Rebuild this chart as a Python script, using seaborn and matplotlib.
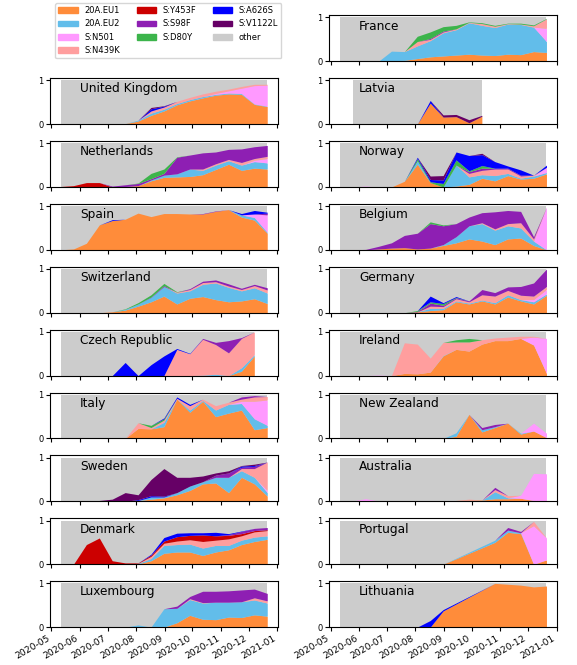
import numpy as np
import pandas as pd
import matplotlib
matplotlib.use("Agg")
import matplotlib.pyplot as plt
import matplotlib.dates as mdates
from matplotlib.patches import Patch
import seaborn as sns

nan = np.nan

# two-week bins
weeks = ["2020-05-11", "2020-05-25", "2020-06-08", "2020-06-22", "2020-07-06",
         "2020-07-20", "2020-08-03", "2020-08-17", "2020-08-31", "2020-09-14",
         "2020-09-28", "2020-10-12", "2020-10-26", "2020-11-09", "2020-11-23",
         "2020-12-07", "2020-12-21"]

variants = ["20A.EU1", "20A.EU2", "S:N501", "S:N439K", "S:Y453F",
            "S:S98F", "S:D80Y", "S:A626S", "S:V1122L"]
variant_colors = ["#ff8c3a", "#62bdea", "#ff99ff", "#ff9e9e", "#cc0000",
                  "#8e1fb3", "#3cb44b", "#0000ff", "#660066"]
other_color = "#cccccc"

# fraction of sequences per variant, one list per variant (nan = no data that week)
uk = {
    "20A.EU1": [0, 0, 0, 0, 0, 0.01, 0.07, 0.20, 0.30, 0.44, 0.53, 0.60, 0.66, 0.69, 0.68, 0.45, 0.40],
    "20A.EU2": [0, 0, 0, 0, 0, 0, 0.02, 0.05, 0.04, 0.03, 0.03, 0.03, 0.02, 0.02, 0.02, 0.01, 0.01],
    "S:N501":  [0, 0, 0, 0, 0, 0, 0, 0, 0, 0, 0, 0, 0.02, 0.05, 0.12, 0.42, 0.48],
    "S:N439K": [0, 0, 0, 0, 0, 0, 0, 0.05, 0.05, 0.05, 0.05, 0.06, 0.05, 0.04, 0.04, 0.03, 0.02],
    "S:A626S": [0, 0, 0, 0, 0, 0, 0, 0.05, 0.02, 0, 0, 0, 0, 0, 0, 0, 0],
    "S:V1122L": [0, 0, 0, 0, 0, 0, 0, 0.03, 0.01, 0, 0, 0, 0, 0, 0, 0, 0],
}
france = {
    "20A.EU1": [0, 0, 0, 0, 0.01, 0.02, 0.06, 0.10, 0.12, 0.14, 0.16, 0.14, 0.13, 0.16, 0.15, 0.22, 0.20],
    "20A.EU2": [0, 0, 0, 0, 0.22, 0.20, 0.29, 0.37, 0.53, 0.58, 0.72, 0.68, 0.64, 0.69, 0.69, 0.56, 0.25],
    "S:N501":  [0, 0, 0, 0, 0, 0, 0, 0, 0, 0, 0, 0, 0, 0, 0, 0, 0.30],
    "S:N439K": [0, 0, 0, 0, 0, 0, 0.10, 0.03, 0.02, 0.02, 0.01, 0.04, 0.03, 0.01, 0.01, 0.03, 0.22],
    "S:S98F":  [0, 0, 0, 0, 0, 0, 0, 0.02, 0.02, 0, 0, 0, 0, 0, 0, 0, 0],
    "S:D80Y":  [0, 0, 0, 0, 0, 0, 0.12, 0.15, 0.10, 0.08, 0.01, 0.02, 0.02, 0.01, 0.02, 0.02, 0.01],
}
latvia = {
    "20A.EU1": [nan, 0, 0, 0, 0, 0, 0, 0.48, 0.16, 0.17, 0.03, 0.18, nan, nan, nan, nan, nan],
    "S:A626S": [nan, 0, 0, 0, 0, 0, 0, 0.06, 0, 0, 0, 0, nan, nan, nan, nan, nan],
    "S:V1122L": [nan, 0, 0, 0, 0, 0, 0, 0, 0.05, 0.05, 0.07, 0.02, nan, nan, nan, nan, nan],
}
netherlands = {
    "20A.EU1": [0, 0, 0, 0, 0, 0.01, 0.03, 0.14, 0.22, 0.23, 0.24, 0.28, 0.40, 0.52, 0.38, 0.43, 0.41],
    "20A.EU2": [0, 0, 0, 0, 0, 0, 0, 0.02, 0.05, 0.07, 0.17, 0.10, 0.10, 0.08, 0.12, 0.15, 0.14],
    "S:N501":  [0.01, 0.01, 0, 0, 0, 0, 0, 0, 0, 0, 0, 0, 0, 0, 0, 0.03, 0.10],
    "S:N439K": [0, 0, 0, 0, 0, 0, 0, 0, 0, 0, 0, 0.03, 0.03, 0.03, 0.06, 0.04, 0.05],
    "S:Y453F": [0, 0.02, 0.10, 0.10, 0, 0, 0, 0, 0, 0, 0, 0, 0, 0, 0, 0, 0],
    "S:S98F":  [0, 0, 0, 0, 0.02, 0.04, 0.05, 0.03, 0.04, 0.38, 0.32, 0.37, 0.27, 0.23, 0.31, 0.27, 0.25],
    "S:D80Y":  [0, 0, 0, 0, 0, 0, 0.01, 0.12, 0.10, 0.01, 0, 0, 0, 0, 0, 0, 0],
}
norway = {
    "20A.EU1": [0, 0, 0, 0, 0, 0.13, 0.52, 0.10, 0, 0.02, 0.06, 0.20, 0.14, 0.26, 0.18, 0.20, 0.30],
    "20A.EU2": [0, 0, 0, 0, 0, 0, 0.08, 0, 0, 0.48, 0.17, 0.08, 0.12, 0.05, 0.02, 0.05, 0.03],
    "S:N501":  [0, 0, 0.02, 0, 0, 0, 0, 0, 0, 0, 0, 0, 0, 0, 0, 0, 0.12],
    "S:N439K": [0, 0, 0, 0, 0, 0, 0, 0, 0, 0, 0.08, 0.10, 0.15, 0.10, 0.05, 0.02, 0],
    "S:S98F":  [0, 0, 0, 0, 0, 0, 0, 0, 0, 0, 0.04, 0.05, 0.02, 0.02, 0.02, 0, 0],
    "S:D80Y":  [0, 0, 0, 0, 0, 0, 0.05, 0.02, 0.08, 0.12, 0.02, 0.06, 0, 0, 0, 0, 0],
    "S:A626S": [0, 0, 0, 0, 0, 0, 0.03, 0.05, 0.08, 0.18, 0.35, 0.25, 0.15, 0.05, 0.12, 0, 0.05],
    "S:V1122L": [0, 0, 0, 0, 0, 0, 0, 0.08, 0.10, 0, 0, 0.03, 0, 0, 0, 0, 0],
}
spain = {
    "20A.EU1": [0, 0.02, 0.15, 0.57, 0.67, 0.70, 0.84, 0.76, 0.83, 0.83, 0.82, 0.82, 0.88, 0.92, 0.75, 0.68, 0.38],
    "20A.EU2": [0, 0, 0, 0, 0, 0, 0, 0, 0, 0, 0, 0, 0, 0, 0.05, 0.06, 0.02],
    "S:N501":  [0, 0, 0, 0, 0, 0, 0, 0, 0, 0, 0, 0, 0, 0, 0, 0.08, 0.40],
    "S:S98F":  [0, 0, 0, 0, 0, 0, 0, 0, 0, 0, 0, 0.01, 0.01, 0, 0, 0, 0.04],
    "S:A626S": [0, 0, 0, 0, 0.02, 0, 0, 0, 0, 0, 0, 0, 0, 0, 0.03, 0.08, 0.02],
}
belgium = {
    "20A.EU1": [0, 0, 0, 0.02, 0.04, 0.05, 0.02, 0.04, 0.10, 0.16, 0.25, 0.20, 0.12, 0.25, 0.27, 0.10, 0],
    "20A.EU2": [0, 0, 0, 0, 0, 0, 0, 0, 0.02, 0.14, 0.30, 0.40, 0.33, 0.30, 0.23, 0.10, 0],
    "S:N501":  [0, 0, 0, 0, 0, 0, 0, 0, 0, 0, 0, 0, 0, 0, 0, 0, 0.98],
    "S:N439K": [0, 0, 0, 0, 0, 0, 0, 0, 0, 0, 0, 0.02, 0.03, 0.05, 0.12, 0.05, 0],
    "S:S98F":  [0, 0, 0.01, 0.06, 0.12, 0.28, 0.36, 0.56, 0.43, 0.30, 0.20, 0.23, 0.39, 0.30, 0.26, 0.05, 0],
    "S:D80Y":  [0, 0, 0, 0, 0, 0, 0, 0.04, 0.02, 0, 0, 0, 0, 0, 0, 0, 0],
}
switzerland = {
    "20A.EU1": [0, 0, 0, 0, 0.02, 0.06, 0.15, 0.25, 0.38, 0.20, 0.33, 0.37, 0.30, 0.25, 0.27, 0.32, 0.21],
    "20A.EU2": [0, 0, 0, 0, 0, 0.02, 0.05, 0.10, 0.22, 0.25, 0.17, 0.28, 0.38, 0.33, 0.23, 0.25, 0.24],
    "S:N439K": [0, 0, 0, 0, 0, 0, 0, 0, 0, 0.02, 0.03, 0.04, 0.03, 0.03, 0.03, 0.05, 0.07],
    "S:S98F":  [0, 0, 0, 0, 0, 0, 0, 0.01, 0.02, 0, 0.02, 0.03, 0.04, 0.05, 0.03, 0.03, 0.05],
    "S:D80Y":  [0, 0, 0, 0, 0, 0.01, 0.03, 0.05, 0.05, 0.01, 0, 0, 0, 0, 0, 0, 0],
}
germany = {
    "20A.EU1": [0, 0, 0, 0, 0, 0, 0.02, 0.05, 0.07, 0.25, 0.20, 0.27, 0.20, 0.36, 0.27, 0.20, 0.40],
    "20A.EU2": [0, 0, 0, 0, 0, 0, 0, 0.05, 0.03, 0.02, 0.02, 0.02, 0.03, 0.05, 0.03, 0.05, 0.03],
    "S:N501":  [0, 0, 0, 0, 0, 0, 0, 0, 0, 0, 0, 0, 0, 0, 0, 0.05, 0.10],
    "S:N439K": [0, 0, 0, 0, 0, 0, 0, 0.05, 0.04, 0.05, 0.03, 0.12, 0.15, 0.10, 0.10, 0.08, 0.07],
    "S:S98F":  [0, 0, 0, 0, 0, 0, 0.01, 0.07, 0.03, 0.02, 0.02, 0.12, 0.08, 0.08, 0.20, 0.30, 0.40],
    "S:D80Y":  [0, 0, 0, 0, 0, 0, 0.02, 0.03, 0.04, 0.01, 0, 0, 0, 0, 0, 0, 0],
    "S:A626S": [0, 0, 0, 0, 0, 0, 0, 0.13, 0.02, 0.02, 0, 0, 0, 0, 0, 0, 0],
}
czech = {
    "20A.EU1": [0, 0, 0, 0, 0, 0, 0, 0, 0, 0, 0, 0, 0, 0, 0.10, 0.45, nan],
    "20A.EU2": [0, 0, 0, 0, 0, 0, 0, 0, 0, 0, 0, 0.01, 0.03, 0, 0.08, 0.03, nan],
    "S:N439K": [0, 0, 0, 0, 0, 0, 0, 0, 0, 0.60, 0.50, 0.82, 0.68, 0.52, 0.67, 0.52, nan],
    "S:S98F":  [0, 0, 0, 0, 0, 0, 0, 0, 0, 0, 0, 0.02, 0.05, 0.28, 0.02, 0, nan],
    "S:A626S": [0, 0, 0, 0, 0, 0.30, 0, 0.25, 0.45, 0.02, 0.01, 0, 0, 0, 0, 0, nan],
}
ireland = {
    "20A.EU1": [0, 0, 0, 0, 0, 0.05, 0.04, 0.08, 0.45, 0.60, 0.56, 0.72, 0.80, 0.80, 0.85, 0.70, 0.05],
    "20A.EU2": [0, 0, 0, 0, 0, 0, 0, 0, 0.01, 0, 0, 0, 0, 0, 0, 0, 0],
    "S:N501":  [0, 0, 0, 0.01, 0, 0, 0, 0, 0, 0, 0, 0, 0, 0, 0, 0.18, 0.80],
    "S:N439K": [0, 0, 0, 0, 0, 0.70, 0.68, 0.32, 0.30, 0.17, 0.21, 0.10, 0.06, 0.08, 0.05, 0.02, 0],
    "S:D80Y":  [0, 0, 0, 0, 0, 0, 0, 0, 0, 0.05, 0.08, 0, 0, 0, 0, 0, 0],
}
italy = {
    "20A.EU1": [0, 0, 0, 0, 0, 0, 0.23, 0.22, 0.27, 0.90, 0.60, 0.85, 0.50, 0.58, 0.65, 0.20, 0.25],
    "20A.EU2": [0, 0, 0, 0, 0, 0, 0, 0, 0.10, 0, 0.05, 0.02, 0.15, 0.20, 0.15, 0.25, 0.05],
    "S:N501":  [0, 0, 0, 0, 0, 0, 0, 0, 0, 0, 0, 0, 0, 0, 0.05, 0.40, 0.58],
    "S:N439K": [0, 0, 0, 0, 0, 0, 0.13, 0.03, 0.05, 0.02, 0.10, 0.03, 0.10, 0.05, 0.05, 0.10, 0.08],
    "S:S98F":  [0, 0, 0, 0, 0, 0, 0, 0, 0, 0, 0, 0, 0, 0, 0.05, 0.03, 0],
    "S:D80Y":  [0, 0, 0, 0, 0, 0, 0, 0.05, 0.03, 0, 0, 0, 0, 0, 0, 0, 0],
    "S:A626S": [0, 0, 0, 0, 0, 0, 0, 0, 0.02, 0.03, 0.03, 0, 0, 0, 0, 0, 0],
}
new_zealand = {
    "20A.EU1": [0, 0, 0, 0, 0, 0, 0, 0, 0, 0.05, 0.55, 0.15, 0.25, 0.35, 0.10, 0.17, 0.02],
    "20A.EU2": [0, 0, 0, 0, 0, 0, 0, 0, 0, 0.08, 0, 0.05, 0.02, 0, 0.02, 0, 0],
    "S:N501":  [0, 0, 0, 0, 0, 0, 0, 0, 0, 0, 0, 0, 0, 0, 0, 0.18, 0.10],
    "S:N439K": [0, 0, 0, 0, 0, 0, 0, 0.01, 0, 0, 0, 0, 0, 0, 0, 0, 0],
    "S:S98F":  [0, 0, 0, 0, 0, 0, 0, 0, 0, 0, 0, 0.05, 0.05, 0, 0, 0, 0],
}
sweden = {
    "20A.EU1": [0, 0, 0, 0, 0, 0, 0.02, 0.05, 0.08, 0.15, 0.25, 0.40, 0.42, 0.20, 0.55, 0.40, 0.12],
    "20A.EU2": [0, 0, 0, 0, 0, 0, 0, 0.05, 0.02, 0.05, 0.10, 0.05, 0.13, 0.35, 0.15, 0.15, 0.08],
    "S:N501":  [0, 0, 0, 0, 0, 0, 0, 0, 0, 0, 0, 0, 0, 0, 0, 0, 0.05],
    "S:N439K": [0, 0, 0, 0, 0, 0, 0, 0, 0, 0, 0, 0, 0, 0, 0.05, 0.20, 0.65],
    "S:S98F":  [0, 0, 0, 0, 0, 0, 0, 0, 0, 0, 0, 0, 0.05, 0.10, 0.03, 0.05, 0],
    "S:A626S": [0, 0, 0, 0, 0, 0, 0.02, 0.03, 0.02, 0, 0, 0, 0, 0, 0.03, 0.02, 0],
    "S:V1122L": [0, 0, 0, 0.02, 0.05, 0.20, 0.11, 0.37, 0.63, 0.35, 0.20, 0.13, 0.05, 0.05, 0.01, 0.03, 0],
}
australia = {
    "20A.EU1": [0, 0, 0, 0, 0, 0, 0, 0, 0, 0.02, 0.03, 0.03, 0.06, 0.06, 0.07, 0.02, 0],
    "20A.EU2": [0, 0, 0, 0, 0, 0, 0, 0, 0, 0, 0, 0, 0.16, 0.02, 0, 0, 0],
    "S:N501":  [0, 0.01, 0.06, 0.01, 0, 0, 0, 0, 0, 0, 0, 0, 0, 0, 0.07, 0.62, 0.63],
    "S:N439K": [0, 0, 0, 0, 0, 0, 0, 0, 0, 0, 0.02, 0, 0.05, 0.05, 0, 0, 0],
    "S:S98F":  [0, 0, 0, 0, 0, 0, 0, 0, 0, 0, 0, 0, 0.05, 0, 0, 0, 0],
}
denmark = {
    "20A.EU1": [0, 0, 0, 0, 0, 0, 0.01, 0.08, 0.25, 0.28, 0.28, 0.20, 0.28, 0.33, 0.45, 0.52, 0.57],
    "20A.EU2": [0, 0, 0, 0, 0, 0, 0.01, 0.05, 0.18, 0.17, 0.18, 0.17, 0.15, 0.10, 0.10, 0.10, 0.08],
    "S:N439K": [0, 0, 0, 0, 0, 0, 0, 0.05, 0.05, 0.08, 0.10, 0.15, 0.12, 0.15, 0.10, 0.12, 0.12],
    "S:Y453F": [0, 0, 0.45, 0.60, 0.08, 0.03, 0.01, 0.03, 0.05, 0.10, 0.10, 0.15, 0.10, 0.08, 0.05, 0.03, 0.02],
    "S:S98F":  [0, 0, 0, 0, 0, 0, 0, 0, 0, 0, 0, 0, 0, 0.02, 0.05, 0.05, 0.05],
    "S:A626S": [0, 0, 0, 0, 0, 0, 0, 0.02, 0.08, 0.08, 0.06, 0.05, 0.08, 0.02, 0.01, 0, 0],
}
portugal = {
    "20A.EU1": [0, 0, 0, 0, 0, 0, 0, 0, 0, nan, nan, nan, 0.50, 0.73, 0.70, 0, 0.10],
    "20A.EU2": [0, 0, 0, 0, 0, 0, 0, 0, 0, nan, nan, nan, 0.05, 0.05, 0.02, 0, 0],
    "S:N501":  [0, 0, 0, 0, 0, 0, 0, 0, 0, nan, nan, nan, 0, 0, 0, 0.88, 0.50],
    "S:N439K": [0, 0, 0, 0, 0, 0, 0, 0, 0, nan, nan, nan, 0, 0, 0, 0.10, 0],
    "S:S98F":  [0, 0, 0, 0, 0, 0, 0, 0, 0, nan, nan, nan, 0, 0.06, 0.03, 0, 0],
}
luxembourg = {
    "20A.EU1": [0, 0, 0, 0, 0, 0, 0, 0, 0, 0.10, 0.27, 0.18, 0.17, 0.23, 0.22, 0.28, 0.25],
    "20A.EU2": [0, 0, 0, 0, 0, 0, 0.05, 0, 0.42, 0.33, 0.36, 0.37, 0.40, 0.34, 0.36, 0.34, 0.30],
    "S:N439K": [0, 0, 0, 0, 0, 0, 0, 0, 0, 0, 0.02, 0.01, 0, 0, 0, 0.05, 0.05],
    "S:S98F":  [0, 0, 0, 0, 0, 0, 0, 0, 0, 0.05, 0.05, 0.26, 0.25, 0.26, 0.27, 0.20, 0.17],
}
lithuania = {
    "20A.EU1": [0, 0, 0, 0, 0, 0, 0, 0, 0.37, nan, nan, nan, 1.00, 0.98, 0.96, 0.92, 0.94],
    "S:A626S": [0, 0, 0, 0, 0, 0, 0, 0.15, 0.03, nan, nan, nan, 0, 0, 0, 0, 0],
}

left_column = [("United Kingdom", uk), ("Netherlands", netherlands), ("Spain", spain),
               ("Switzerland", switzerland), ("Czech Republic", czech), ("Italy", italy),
               ("Sweden", sweden), ("Denmark", denmark), ("Luxembourg", luxembourg)]
right_column = [("France", france), ("Latvia", latvia), ("Norway", norway),
                ("Belgium", belgium), ("Germany", germany), ("Ireland", ireland),
                ("New Zealand", new_zealand), ("Australia", australia),
                ("Portugal", portugal), ("Lithuania", lithuania)]

sns.set_style("ticks", {"axes.edgecolor": "black", "xtick.color": "black",
                        "ytick.color": "black", "text.color": "black"})
plt.rcParams["font.family"] = ["DejaVu Sans"]

dates = pd.to_datetime(weeks)


def draw_country(ax, name, data):
    vals = np.array([data.get(v, [0] * len(weeks)) for v in variants], dtype=float)
    ok = ~np.isnan(vals[0])
    d = dates[ok]
    # grey "other" background over the sampled period
    ax.fill_between(d, 0, 1, color=other_color, linewidth=0)
    ax.stackplot(d, *vals[:, ok], colors=variant_colors, linewidth=0)
    ax.text(0.13, 0.69, name, transform=ax.transAxes, fontsize=8.7, va="baseline")


fig, axes = plt.subplots(10, 2, figsize=(5.77, 6.65), dpi=100, sharex=True)

for i, (name, data) in enumerate(left_column):
    draw_country(axes[i + 1, 0], name, data)
for i, (name, data) in enumerate(right_column):
    draw_country(axes[i, 1], name, data)

for ax in axes.flat:
    ax.set_yticks([0, 1])
    ax.tick_params(axis="y", labelsize=6, length=3, pad=2)
    ax.tick_params(axis="x", labelsize=6.6, length=3, pad=2)

axes[0, 1].xaxis.set_major_locator(mdates.MonthLocator())
axes[0, 1].xaxis.set_major_formatter(mdates.DateFormatter("%Y-%m"))
fig.autofmt_xdate(rotation=30, ha="right")

axes[0, 0].axis("off")
handles = [Patch(color=c, label=v) for v, c in zip(variants, variant_colors)]
handles.append(Patch(color=other_color, label="other"))
fig.legend(handles=handles, ncol=3, loc="upper left", fontsize=6,
           handlelength=2.3, borderaxespad=0,
           bbox_to_anchor=(55 / 577, 1 - 3 / 665))

fig.subplots_adjust(left=0.087, right=0.965, top=0.977, bottom=0.057,
                    hspace=0.37, wspace=0.228)
fig.savefig("out.png", dpi=100)
